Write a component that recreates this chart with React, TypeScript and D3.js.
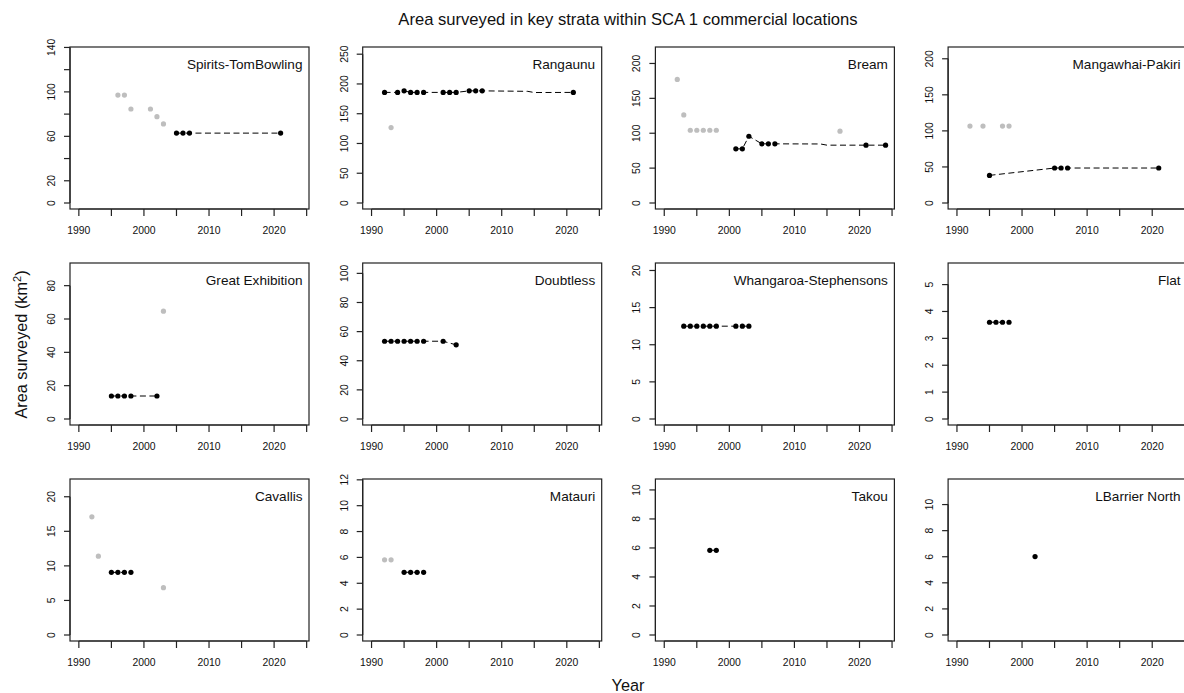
import React from "react";
import * as d3 from "d3";

const W = 1184;
const H = 693;

const strata = [
  "Spirits-TomBowling",
  "Rangaunu",
  "Bream",
  "Mangawhai-Pakiri",
  "Great Exhibition",
  "Doubtless",
  "Whangaroa-Stephensons",
  "Flat",
  "Cavallis",
  "Matauri",
  "Takou",
  "LBarrier North",
];

// black (used) survey areas
const blackYears: number[][] = [
  [2005, 2006, 2007, 2021],
  [1992, 1994, 1995, 1996, 1997, 1998, 2001, 2002, 2003, 2005, 2006, 2007, 2021],
  [2001, 2002, 2003, 2005, 2006, 2007, 2021, 2024],
  [1995, 2005, 2006, 2007, 2021],
  [1995, 1996, 1997, 1998, 2002],
  [1992, 1993, 1994, 1995, 1996, 1997, 1998, 2001, 2003],
  [1993, 1994, 1995, 1996, 1997, 1998, 2001, 2002, 2003],
  [1995, 1996, 1997, 1998],
  [1995, 1996, 1997, 1998],
  [1995, 1996, 1997, 1998],
  [1997, 1998],
  [2002],
];
const blackValues: number[][] = [
  [62.9, 62.9, 62.9, 62.9],
  [185.8, 185.8, 188.4, 185.8, 185.8, 185.8, 185.8, 185.8, 185.8, 188.4, 188.4, 188.4, 185.8],
  [77.6, 77.6, 95.7, 84.8, 84.8, 84.8, 82.9, 82.9],
  [38.3, 48.5, 48.5, 48.5, 48.5],
  [13.8, 13.8, 13.8, 13.8, 13.8],
  [53.4, 53.4, 53.4, 53.4, 53.4, 53.4, 53.4, 53.4, 50.9],
  [12.5, 12.5, 12.5, 12.5, 12.5, 12.5, 12.5, 12.5, 12.5],
  [3.6, 3.6, 3.6, 3.6],
  [9.06, 9.06, 9.06, 9.06],
  [4.85, 4.85, 4.85, 4.85],
  [5.84, 5.84],
  [6.01],
];

// line vertices without a marker
const lineOnlyYears: number[][] = [[], [2014, 2015], [2014, 2015], [], [], [], [], [], [], [], [], []];
const lineOnlyValues: number[][] = [[], [187.6, 185.6], [84.6, 82.9], [], [], [], [], [], [], [], [], []];

// grey (not used) survey areas
const greyYears: number[][] = [
  [1996, 1997, 1998, 2001, 2002, 2003],
  [1993],
  [1992, 1993, 1994, 1995, 1996, 1997, 1998, 2017],
  [1992, 1994, 1997, 1998],
  [2003],
  [],
  [],
  [],
  [1992, 1993, 2003],
  [1992, 1993],
  [],
  [],
];
const greyValues: number[][] = [
  [97.1, 97.1, 84.6, 84.6, 77.7, 71.2],
  [126.7],
  [177.1, 126.2, 104.3, 104.3, 104.3, 104.3, 104.3, 102.9],
  [106.7, 106.7, 106.7, 106.7],
  [64.7],
  [],
  [],
  [],
  [17.1, 11.4, 6.84],
  [5.81, 5.81],
  [],
  [],
];

// axis settings
const yLimits = [135, 252, 215, 208, 90, 103, 20.2, 5.58, 21.7, 11.6, 10.34, 11.5];
const yTickSteps = [20, 50, 50, 50, 20, 20, 5, 1, 5, 2, 2, 2];
const yHiddenLabels: number[][] = [[40, 80, 120], [], [], [], [], [], [], [], [], [], [], []];
const xLimits = [1990, 2024];
const xTicks = [1990, 1995, 2000, 2005, 2010, 2015, 2020, 2025];
const xLabels = [1990, 2000, 2010, 2020];

const FONT = "'Liberation Sans', Arial, Helvetica, sans-serif";

export default function App() {
  const colStep = 292.7;
  const rowStep = 216;
  const pw = 239;
  const ph = 162;

  const panels = strata.map((name, i) => {
    const col = i % 4;
    const row = Math.floor(i / 4);
    const left = 70 + col * colStep;
    const top = 47 + row * rowStep;
    const xr = xLimits[1] - xLimits[0];
    const x = d3
      .scaleLinear()
      .domain([xLimits[0] - 0.04 * xr, xLimits[1] + 0.04 * xr])
      .range([left, left + pw]);
    const M = yLimits[i];
    const y = d3
      .scaleLinear()
      .domain([-0.04 * M, 1.04 * M])
      .range([top + ph, top]);
    const step = yTickSteps[i];
    const yt: number[] = [];
    for (let k = 0; k * step <= 1.04 * M + 1e-9; k++) yt.push(+(k * step).toFixed(6));

    const linePts = blackYears[i]
      .map((yr, j) => [yr, blackValues[i][j]] as [number, number])
      .concat(lineOnlyYears[i].map((yr, j) => [yr, lineOnlyValues[i][j]] as [number, number]))
      .sort((a, b) => a[0] - b[0]);
    const lineGen = d3
      .line<[number, number]>()
      .x((d) => x(d[0]))
      .y((d) => y(d[1]));
    const bottom = top + ph;
    const lastX = xTicks[xTicks.length - 1];

    return (
      <g key={name}>
        <rect x={left} y={top} width={pw} height={ph} fill="none" stroke="#222" strokeWidth={1.2} />
        {/* x axis */}
        <line x1={x(xTicks[0])} x2={x(lastX)} y1={bottom} y2={bottom} stroke="#222" strokeWidth={1.2} />
        {xTicks.map((t) => (
          <line key={"xt" + t} x1={x(t)} x2={x(t)} y1={bottom} y2={bottom + 7} stroke="#222" strokeWidth={1.2} />
        ))}
        {xLabels.map((t) => (
          <text
            key={"xl" + t}
            x={x(t)}
            y={bottom + 25}
            textAnchor="middle"
            fontSize={10.4}
            fontFamily={FONT}
            fill="#111"
          >
            {t}
          </text>
        ))}
        {/* y axis */}
        <line x1={left} x2={left} y1={y(yt[0])} y2={y(yt[yt.length - 1])} stroke="#222" strokeWidth={1.2} />
        {yt.map((t) => (
          <line key={"yt" + t} x1={left - 6} x2={left} y1={y(t)} y2={y(t)} stroke="#222" strokeWidth={1.2} />
        ))}
        {yt
          .filter((t) => !yHiddenLabels[i].includes(t))
          .map((t) => (
            <text
              key={"yl" + t}
              transform={`translate(${left - 15},${y(t)}) rotate(-90)`}
              textAnchor="middle"
              fontSize={10.4}
              fontFamily={FONT}
              fill="#111"
            >
              {t}
            </text>
          ))}
        {/* panel label */}
        <text x={left + pw - 6.5} y={top + 22} textAnchor="end" fontSize={13.6} fontFamily={FONT} fill="#111">
          {name}
        </text>
        {/* grey points */}
        {greyYears[i].map((yr, j) => (
          <circle key={"g" + j} cx={x(yr)} cy={y(greyValues[i][j])} r={2.6} fill="#BEBEBE" />
        ))}
        {/* dashed line */}
        {linePts.length > 1 && (
          <path d={lineGen(linePts) || ""} fill="none" stroke="#000" strokeWidth={1} strokeDasharray="6,3.5" />
        )}
        {blackYears[i].map((yr, j) => (
          <circle key={"b" + j} cx={x(yr)} cy={y(blackValues[i][j])} r={2.6} fill="#000" />
        ))}
      </g>
    );
  });

  return (
    <svg
      width={W}
      height={H}
      viewBox={`0 0 ${W} ${H}`}
      style={{ position: "absolute", left: 0, top: 0, background: "#fff" }}
    >
      <rect x={0} y={0} width={W} height={H} fill="#fff" />
      <text x={628} y={25} textAnchor="middle" fontSize={16.6} fontFamily={FONT} fill="#111">
        Area surveyed in key strata within SCA 1 commercial locations
      </text>
      <text
        transform={`translate(27,344.5) rotate(-90)`}
        textAnchor="middle"
        fontSize={16.3}
        fontFamily={FONT}
        fill="#111"
      >
        Area surveyed (km
        <tspan fontSize={11} dy={-6}>
          2
        </tspan>
        <tspan dy={6}>)</tspan>
      </text>
      <text x={628} y={691} textAnchor="middle" fontSize={16.3} fontFamily={FONT} fill="#111">
        Year
      </text>
      {panels}
    </svg>
  );
}
